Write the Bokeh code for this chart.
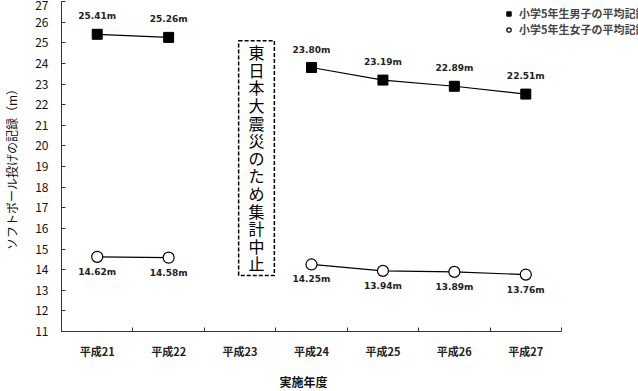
import numpy as np
from bokeh.plotting import figure
from bokeh.models import (FixedTicker, Legend, LegendItem, BoxAnnotation,
                          ColumnDataSource, Title)
from bokeh.core.properties import value
from bokeh.embed import file_html
from bokeh.resources import INLINE

years = ["平成21", "平成22", "平成23", "平成24", "平成25", "平成26", "平成27"]
boys = [25.41, 25.26, np.nan, 23.80, 23.19, 22.89, 22.51]
girls = [14.62, 14.58, np.nan, 14.25, 13.94, 13.89, 13.76]
y_ticks = list(range(11, 28))
boys_name = "小学5年生男子の平均記録"
girls_name = "小学5年生女子の平均記録"
note_text = "東日本大震災のため集計中止"
x_title = "実施年度"
y_title = "ソフトボール投げの記録（m）"

JP = "Noto Sans CJK JP"
NUM = "DejaVu Sans"

n = len(years)
xpos = np.arange(n) + 0.5
# plot area is 500 px for the categories; extra room on the right holds the legend
axis_px, frame_px = 500, 578
x_end = n * frame_px / axis_px

p = figure(frame_width=frame_px, frame_height=330, output_backend="svg",
           toolbar_location=None,
           x_range=(0, x_end), y_range=(11, 27),
           min_border_left=60, min_border_right=0, min_border_top=1,
           min_border_bottom=60)
p.outline_line_color = None
p.xgrid.visible = False
p.ygrid.visible = False
p.background_fill_color = "white"

# x axis: ticks between categories, labels in the middle
p.xaxis.bounds = (0, n)
p.xaxis.ticker = FixedTicker(ticks=list(xpos), minor_ticks=list(range(n + 1)))
p.xaxis.major_label_overrides = {float(x): y for x, y in zip(xpos, years)}
p.xaxis.major_tick_line_color = None
p.xaxis.major_tick_out = 0
p.xaxis.major_tick_in = 0
p.xaxis.minor_tick_in = 4
p.xaxis.minor_tick_out = 0
p.xaxis.minor_tick_line_color = "#333333"
p.xaxis.axis_line_color = "#333333"
p.xaxis.major_label_text_font = JP
p.xaxis.major_label_text_font_style = "bold"
p.xaxis.major_label_text_font_size = "11px"
p.xaxis.major_label_text_color = "#222222"
p.xaxis.major_label_standoff = 11

xt = Title(text=x_title, align="left", offset=218, standoff=18,
           text_font=JP, text_font_style="bold", text_font_size="12px",
           text_color="#111111")
p.add_layout(xt, "below")

p.yaxis.ticker = FixedTicker(ticks=y_ticks)
p.yaxis.major_tick_in = 4
p.yaxis.major_tick_out = 0
p.yaxis.minor_tick_line_color = None
p.yaxis.axis_line_color = "#333333"
p.yaxis.major_tick_line_color = "#333333"
p.yaxis.major_label_text_font = JP
p.yaxis.major_label_text_font_size = "12px"
p.yaxis.major_label_text_color = "#111111"
p.yaxis.major_label_standoff = 13
p.yaxis.axis_label = y_title
p.yaxis.axis_label_text_font = JP
p.yaxis.axis_label_text_font_style = "normal"
p.yaxis.axis_label_text_font_size = "12px"
p.yaxis.axis_label_text_color = "#111111"
p.yaxis.axis_label_standoff = 12

src = ColumnDataSource(dict(
    x=xpos, boys=boys, girls=girls,
    boys_lbl=["" if np.isnan(v) else f"{v:.2f}m" for v in boys],
    girls_lbl=["" if np.isnan(v) else f"{v:.2f}m" for v in girls],
))

p.line("x", "boys", source=src, line_color="black", line_width=1.2)
p.line("x", "girls", source=src, line_color="black", line_width=1.2)
rb = p.scatter("x", "boys", source=src, marker="square", size=10,
               fill_color="black", line_color="black")
rg = p.scatter("x", "girls", source=src, marker="circle", size=11,
               fill_color="white", line_color="black", line_width=1.2)

p.text("x", "boys", text="boys_lbl", source=src, y_offset=-18,
       text_align="center", text_baseline="middle",
       text_font=value(NUM), text_font_style="bold", text_font_size="9px",
       text_color="#222222")
p.text("x", "girls", text="girls_lbl", source=src, y_offset=15,
       text_align="center", text_baseline="middle",
       text_font=value(NUM), text_font_style="bold", text_font_size="9px",
       text_color="#222222")

# note box for the missing year
box_left, box_right, box_bottom, box_top = 2.48, 2.98, 13.72, 25.1
box = BoxAnnotation(left=box_left, right=box_right, bottom=box_bottom, top=box_top,
                    fill_alpha=0, line_color="black", line_alpha=1.0,
                    line_dash="4 2", line_width=1.5)
p.add_layout(box)
chars = list(note_text)
char_y = np.linspace(24.55, 14.3, len(chars))
p.text(x=[(box_left + box_right) / 2] * len(chars), y=char_y, text=chars,
       text_align="center", text_baseline="middle",
       text_font=value(JP), text_font_size="16px", text_color="black")

legend = Legend(items=[LegendItem(label=boys_name, renderers=[rb]),
                       LegendItem(label=girls_name, renderers=[rg])],
                location=(442, 294), background_fill_alpha=0,
                border_line_color=None, label_text_font=JP,
                label_text_font_size="11px", label_text_font_style="bold",
                glyph_width=11, glyph_height=11, label_standoff=5,
                spacing=0, padding=2, margin=0, label_height=12)
p.add_layout(legend)

open("out.html", "w").write(file_html(p, INLINE))
